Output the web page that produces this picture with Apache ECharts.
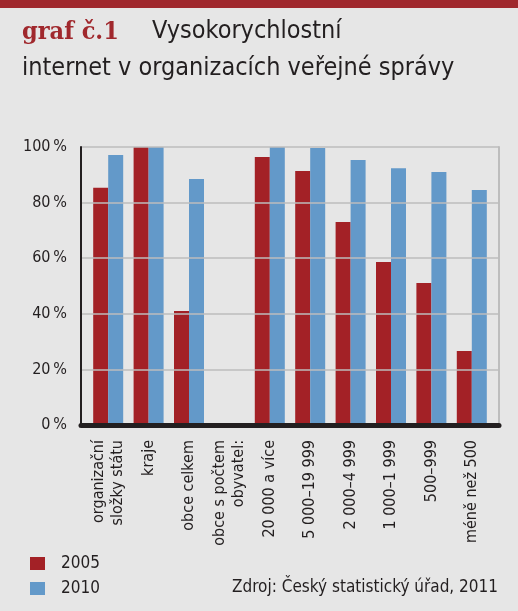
<!DOCTYPE html>
<html>
<head>
<meta charset="utf-8">
<script src="https://cdn.jsdelivr.net/npm/echarts@6/dist/echarts.min.js"></script>
<style>
html,body{margin:0;padding:0;background:#e6e6e6;}
#c{width:518px;height:611px;}
</style>
</head>
<body>
<div id="c"></div>
<script>
const categories = ["organizační\nsložky státu", "kraje", "obce celkem", "obce s počtem\nobyvatel:", "20 000 a více", "5 000–19 999", "2 000–4 999", "1 000–1 999", "500–999", "méně než 500"];
const values2005 = [85.3, 100, 41, null, 96.4, 91.4, 73, 58.6, 51.1, 26.6];
const values2010 = [97.1, 100, 88.5, null, 100, 99.6, 95.3, 92.4, 91, 84.5];
const seriesNames = ["2005", "2010"];
const titleRed = "graf č.1";
const titleLine1 = "Vysokorychlostní";
const titleLine2 = "internet v organizacích veřejné správy";
const sourceText = "Zdroj: Český statistický úřad, 2011";

const NARROW = "'Liberation Sans Narrow', 'DejaVu Sans Condensed', sans-serif";
const RED = "#a32126";
const BLUE = "#6399c9";
const DARK = "#231f20";

const chart = echarts.init(document.getElementById('c'), null, {renderer: 'canvas'});
chart.setOption({
  backgroundColor: '#e6e6e6',
  animation: false,
  textStyle: {fontFamily: NARROW, color: DARK},
  graphic: [
    {type: 'rect', left: 0, top: 0, shape: {width: 518, height: 8}, style: {fill: '#a0282d'}},
    {type: 'text', left: 22, top: 20, style: {text: titleRed, font: "bold 25px 'DejaVu Serif Condensed', 'DejaVu Serif', serif", fill: '#a0282d'}},
    {type: 'text', left: 152, top: 19, style: {text: titleLine1, font: "25px " + NARROW, fill: DARK}},
    {type: 'text', left: 22, top: 56, style: {text: titleLine2, font: "25px " + NARROW, fill: DARK}},
    {type: 'text', right: 20, top: 579, style: {text: sourceText, font: "17px " + NARROW, fill: DARK}}
  ],
  legend: {
    orient: 'vertical', left: 25, top: 550,
    itemWidth: 15, itemHeight: 13, itemGap: 8,
    icon: 'rect',
    textStyle: {fontSize: 17, color: DARK, fontFamily: NARROW, padding: [0, 0, 0, 11]},
    data: seriesNames
  },
  grid: [
    {left: 81, right: 19, top: 147, bottom: 186},
    {left: 88, right: 26, top: 147, bottom: 186}
  ],
  xAxis: [
    {gridIndex: 0, type: 'value', min: 0, max: 1, z: 5,
     axisLine: {show: true, lineStyle: {color: DARK, width: 5}},
     axisTick: {show: false}, axisLabel: {show: false}, splitLine: {show: false}},
    {gridIndex: 1, type: 'category', data: categories,
     axisLine: {show: false}, axisTick: {show: false},
     axisLabel: {rotate: 90, fontSize: 16, color: DARK, fontFamily: NARROW, margin: 15, interval: 0, lineHeight: 19}}
  ],
  yAxis: [
    {gridIndex: 0, type: 'value', min: 0, max: 100, interval: 20, z: 4,
     axisLine: {show: true, lineStyle: {color: DARK, width: 2}},
     axisTick: {show: false},
     axisLabel: {formatter: '{value}\u2009%', fontSize: 16, color: DARK, fontFamily: NARROW, margin: 14},
     splitLine: {show: true, lineStyle: {color: '#bcbcbc', width: 1.5}}},
    {gridIndex: 0, type: 'value', min: 0, max: 100, position: 'right',
     axisLine: {show: true, lineStyle: {color: '#bdbdbd', width: 2}},
     axisTick: {show: false}, axisLabel: {show: false}, splitLine: {show: false}},
    {gridIndex: 1, type: 'value', min: 0, max: 100, show: false}
  ],
  series: [
    {name: seriesNames[0], type: 'bar', xAxisIndex: 1, yAxisIndex: 2, data: values2005,
     barWidth: 15, barGap: '0%', itemStyle: {color: RED}},
    {name: seriesNames[1], type: 'bar', xAxisIndex: 1, yAxisIndex: 2, data: values2010,
     barWidth: 15, barGap: '0%', itemStyle: {color: BLUE}}
  ]
});
</script>
</body>
</html>
